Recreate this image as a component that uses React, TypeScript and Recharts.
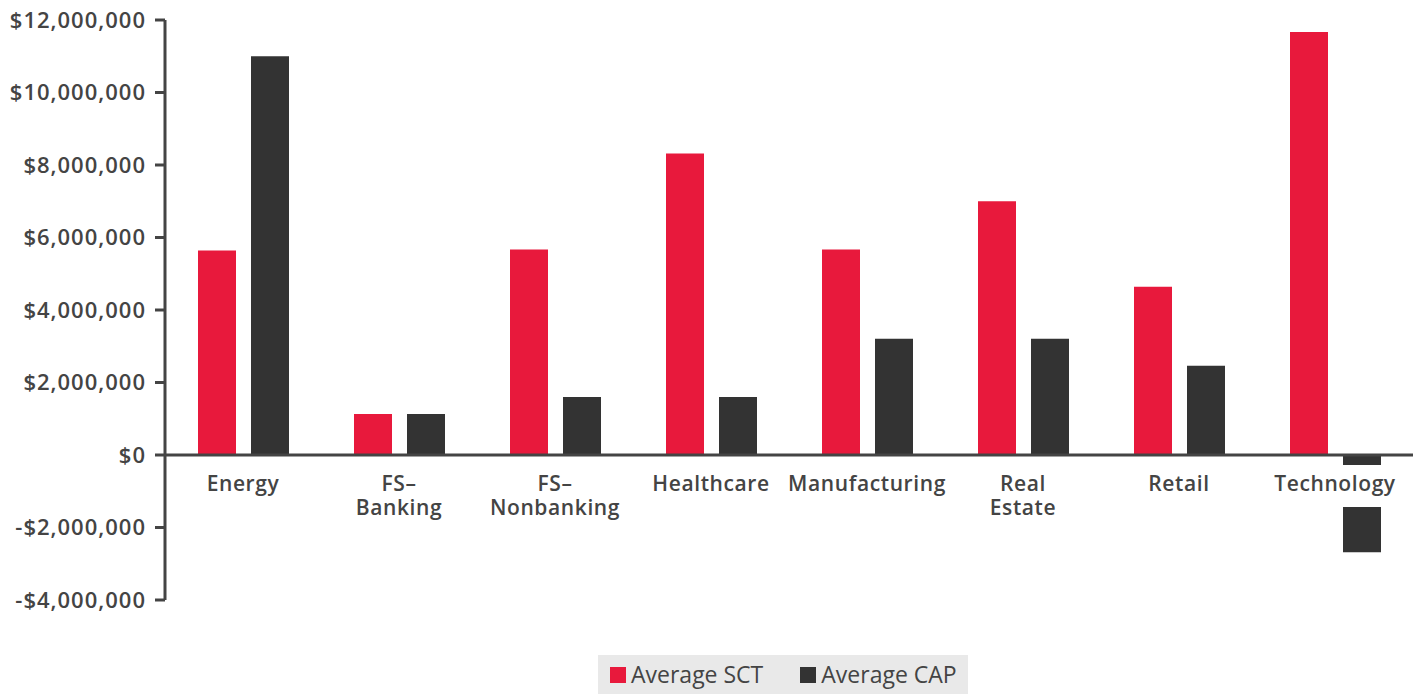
import { BarChart, Bar, XAxis, YAxis, ReferenceLine } from 'recharts';

const categories = ['Energy', 'FS–\nBanking', 'FS–\nNonbanking', 'Healthcare', 'Manufacturing', 'Real\nEstate', 'Retail', 'Technology'];
const averageSct = [5640000, 1130000, 5670000, 8320000, 5670000, 7000000, 4640000, 11670000];
const averageCap = [11000000, 1130000, 1600000, 1600000, 3210000, 3210000, 2460000, -2680000];
const yTicks = [-4000000, -2000000, 0, 2000000, 4000000, 6000000, 8000000, 10000000, 12000000];

const RED = '#e8193c';
const DARK = '#333333';
const INK = '#444444';

const W = 1423;
const H = 694;
const TOP = 20;
const BOTTOM = 94;
const Y_MIN = -4000000;
const Y_MAX = 12000000;
const PLOT_H = H - TOP - BOTTOM;
const ZERO_Y = TOP + (PLOT_H * Y_MAX) / (Y_MAX - Y_MIN);

const data = categories.map((name, i) => ({ name, sct: averageSct[i], cap: averageCap[i] }));

const money = (v: number) => (v < 0 ? '-$' : '$') + Math.abs(v).toLocaleString('en-US');

// category labels hang under the zero line, on a white patch that hides the bar behind them
function CategoryTick({ x, payload }: any) {
  const lines = String(payload.value).split('\n');
  const longest = Math.max(...lines.map((l) => l.length));
  const w = longest * 12.5 + 8;
  return (
    <g>
      <rect x={x - w / 2} y={ZERO_Y + 10} width={w} height={18 + lines.length * 24} fill="#ffffff" />
      <text x={x} y={ZERO_Y + 36} textAnchor="middle" fill={INK} fontSize={21} fontWeight={600} letterSpacing={0.6}>
        {lines.map((l, i) => (
          <tspan key={i} x={x} dy={i === 0 ? 0 : 24}>
            {l}
          </tspan>
        ))}
      </text>
    </g>
  );
}

function LegendBox() {
  const items = [
    { label: 'Average SCT', color: RED },
    { label: 'Average CAP', color: DARK },
  ];
  return (
    <div style={{ position: 'absolute', left: 598, top: 655, display: 'inline-flex', alignItems: 'center', background: '#e9e9e9', height: 39, padding: '0 11px 0 12px', gap: 37 }}>
      {items.map((it) => (
        <div key={it.label} style={{ display: 'flex', alignItems: 'center', gap: 5 }}>
          <span style={{ width: 16, height: 16, background: it.color, display: 'inline-block' }} />
          <span style={{ fontSize: 23, color: INK, lineHeight: '39px' }}>{it.label}</span>
        </div>
      ))}
    </div>
  );
}

export default function App() {
  return (
    <div style={{ position: 'absolute', left: 0, top: 0, width: W, height: H, fontFamily: '"Open Sans", sans-serif' }}>
      <BarChart width={W} height={H} data={data} margin={{ top: TOP, right: 10, bottom: BOTTOM - 1, left: 0 }} barSize={38} barGap={15}>
        <YAxis
          width={165}
          domain={[Y_MIN, Y_MAX]}
          ticks={yTicks}
          tickFormatter={money}
          axisLine={{ stroke: INK, strokeWidth: 3 }}
          tickLine={{ stroke: INK, strokeWidth: 3 }}
          tickSize={10}
          tickMargin={9}
          tick={{ fill: INK, fontSize: 22, fontWeight: 600, letterSpacing: 1 }}
          interval={0}
        />
        <Bar dataKey="sct" name="Average SCT" fill={RED} isAnimationActive={false} />
        <Bar dataKey="cap" name="Average CAP" fill={DARK} isAnimationActive={false} />
        <ReferenceLine y={0} stroke={INK} strokeWidth={3} />
        <XAxis dataKey="name" height={1} axisLine={false} tickLine={false} tick={<CategoryTick />} interval={0} />
      </BarChart>
      <LegendBox />
    </div>
  );
}
